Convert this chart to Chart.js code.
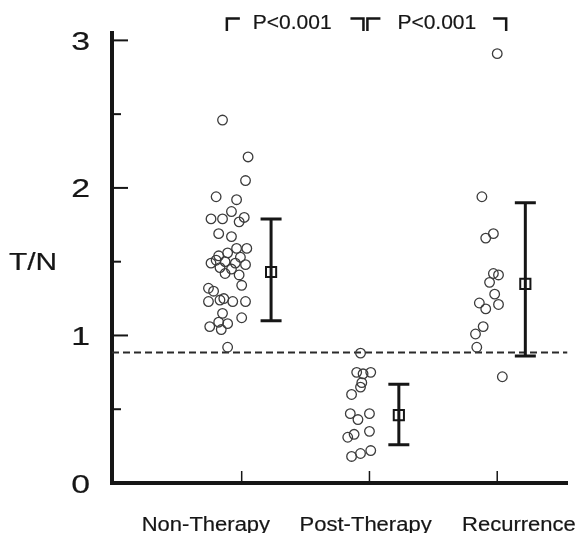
<!DOCTYPE html>
<html><head><meta charset="utf-8">
<script src="https://cdn.jsdelivr.net/npm/chart.js@4/dist/chart.umd.min.js"></script>
<style>html,body{margin:0;padding:0;background:#fff}#wrap{width:581px;height:533px;position:relative}</style>
</head><body><div id="wrap"><canvas id="c" width="581" height="533"></canvas></div>
<script>
// ---- data ----
const categories = ['Non-Therapy', 'Post-Therapy', 'Recurrence'];
const yTickLabels = [0, 1, 2, 3];
const yAxisTitle = 'T/N';
const pValueLabels = ['P<0.001', 'P<0.001'];

// jitter offsets (category units) and T/N values of each circle
const nonTherapyJitter = [-0.15,0.05,0.03,-0.20,-0.04,-0.08,-0.24,-0.15,-0.02,0.02,-0.18,-0.08,-0.04,0.04,-0.11,-0.18,-0.01,-0.24,-0.20,-0.13,-0.05,0.03,-0.17,-0.08,-0.13,-0.02,0.00,-0.26,-0.22,-0.26,-0.17,-0.14,-0.07,0.03,-0.15,-0.25,-0.18,-0.11,-0.16,0.00,-0.11];
const nonTherapyValues = [2.46,2.21,2.05,1.94,1.92,1.84,1.79,1.79,1.77,1.80,1.69,1.67,1.59,1.59,1.56,1.54,1.53,1.49,1.51,1.50,1.49,1.48,1.46,1.45,1.42,1.41,1.34,1.32,1.30,1.23,1.24,1.25,1.23,1.23,1.15,1.06,1.09,1.08,1.04,1.12,0.92];
const postTherapyJitter = [-0.07,-0.10,-0.05,0.01,-0.06,-0.07,-0.14,-0.15,-0.09,0.00,-0.17,-0.12,0.00,-0.14,-0.07,0.01];
const postTherapyValues = [0.88,0.75,0.74,0.75,0.68,0.65,0.60,0.47,0.43,0.47,0.31,0.33,0.35,0.18,0.20,0.22];
const recurrenceJitter = [0.00,-0.12,-0.03,-0.09,-0.03,0.01,-0.06,-0.02,-0.14,-0.09,0.01,-0.11,-0.17,-0.16,0.04];
const recurrenceValues = [2.91,1.94,1.69,1.66,1.42,1.41,1.36,1.28,1.22,1.18,1.21,1.06,1.01,0.92,0.72];

// mean ± SD per group
const groupMeans = [1.43, 0.46, 1.35];
const groupLows  = [1.10, 0.26, 0.86];
const groupHighs = [1.79, 0.67, 1.90];
const cutoff = 0.885;

// ---- styling / layout (not data) ----
const INK = '#161616';
const summaryOffset = [0.23, 0.23, 0.22];
const catLabelShift = [-0.28, -0.03, 0.17];
const pLabelPos = [1.395, 2.527];
const bracketX = [0.884, 1.953, 1.984, 3.07];
const X_MIN = -0.015, X_MAX = 3.55, Y_MIN = 0, Y_MAX = 3.05;

const groupsJ = [nonTherapyJitter, postTherapyJitter, recurrenceJitter];
const groupsV = [nonTherapyValues, postTherapyValues, recurrenceValues];

const datasets = [];
datasets.push({
  type: 'line', label: 'cutoff',
  data: [{x: X_MIN, y: cutoff}, {x: X_MAX, y: cutoff}],
  borderColor: '#2a2a2a', borderWidth: 2, borderDash: [7, 4], pointRadius: 0, order: 5
});
groupsV.forEach((vals, g) => {
  datasets.push({
    type: 'scatter', label: categories[g],
    data: vals.map((v, i) => ({x: g + 1 + groupsJ[g][i], y: v})),
    pointRadius: 4.8, pointBorderWidth: 1.3, pointBorderColor: '#3c3c3c',
    pointBackgroundColor: 'rgba(0,0,0,0)', order: 1
  });
  datasets.push({
    type: 'line', label: categories[g] + ' SD',
    data: [{x: g + 1 + summaryOffset[g], y: groupLows[g]}, {x: g + 1 + summaryOffset[g], y: groupHighs[g]}],
    borderColor: INK, borderWidth: 3, pointStyle: 'line', pointRadius: 10.5,
    pointBorderWidth: 3, pointBorderColor: INK, order: 2
  });
});
datasets.push({
  type: 'scatter', label: 'mean',
  data: groupMeans.map((m, g) => ({x: g + 1 + summaryOffset[g], y: m})),
  pointStyle: 'rect', pointRadius: 7.2, pointBorderWidth: 2, pointBorderColor: INK,
  pointBackgroundColor: 'rgba(0,0,0,0)', order: 0
});

function sText(ctx, txt, x, y, size, align, sx) {
  ctx.save();
  ctx.font = size + 'px "Liberation Sans", Arial, Helvetica, sans-serif';
  ctx.textBaseline = 'alphabetic';
  ctx.textAlign = align;
  ctx.fillStyle = INK;
  ctx.strokeStyle = INK;
  ctx.lineWidth = 0.2;
  ctx.translate(x, y);
  ctx.scale(sx, 1);
  ctx.fillText(txt, 0, 0);
  ctx.strokeText(txt, 0, 0);
  ctx.restore();
}

const decor = {
  id: 'decor',
  afterDraw(chart) {
    const ctx = chart.ctx, xs = chart.scales.x, ys = chart.scales.y, ca = chart.chartArea;
    ctx.save();
    ctx.strokeStyle = INK;
    // inward y ticks
    for (let v = 0.5; v <= 3; v += 0.5) {
      const py = ys.getPixelForValue(v);
      const major = Math.abs(v - Math.round(v)) < 1e-6;
      ctx.lineWidth = 2;
      ctx.beginPath(); ctx.moveTo(ca.left, py); ctx.lineTo(ca.left + (major ? 16 : 9), py); ctx.stroke();
    }
    // inward x ticks
    categories.forEach((c, i) => {
      const px = xs.getPixelForValue(i + 1);
      ctx.lineWidth = 1.5;
      ctx.beginPath(); ctx.moveTo(px, ca.bottom); ctx.lineTo(px, ca.bottom - 12); ctx.stroke();
    });
    // y tick labels
    yTickLabels.forEach(v => {
      sText(ctx, String(v), ca.left - 22, ys.getPixelForValue(v) + 9.5, 26, 'right', 1.3);
    });
    sText(ctx, yAxisTitle, 9, 270, 23, 'left', 1.3);
    // category labels
    categories.forEach((c, i) => {
      sText(ctx, c, xs.getPixelForValue(i + 1 + catLabelShift[i]), 531, 20, 'center', 1.1);
    });
    // brackets
    ctx.lineWidth = 2.5;
    ctx.lineCap = 'butt';
    const top = 18.5, bot = 31, arm = 13;
    const bx = bracketX.map(v => xs.getPixelForValue(v));
    const br = (x, dir) => {
      ctx.beginPath();
      ctx.moveTo(x, bot); ctx.lineTo(x, top); ctx.lineTo(x + dir * arm, top); ctx.stroke();
    };
    br(bx[0], 1); br(bx[1], -1); br(bx[2], 1); br(bx[3], -1);
    pValueLabels.forEach((t, i) => {
      sText(ctx, t, xs.getPixelForValue(pLabelPos[i]), 28.5, 21, 'center', 1.0);
    });
    ctx.restore();
  }
};

new Chart(document.getElementById('c'), {
  type: 'scatter',
  data: { datasets },
  options: {
    responsive: false, animation: false, devicePixelRatio: 1,
    layout: { padding: { left: 0, right: 9, top: 33, bottom: 0 } },
    plugins: { legend: { display: false }, tooltip: { enabled: false } },
    scales: {
      x: {
        type: 'linear', min: X_MIN, max: X_MAX,
        grid: { display: false }, ticks: { display: false },
        border: { display: true, width: 4, color: INK },
        afterFit: s => { s.height = 50; }
      },
      y: {
        type: 'linear', min: Y_MIN, max: Y_MAX,
        grid: { display: false }, ticks: { display: false, stepSize: 0.5 },
        border: { display: true, width: 4, color: INK },
        afterFit: s => { s.width = 112; }
      }
    }
  },
  plugins: [decor]
});
</script>
</body></html>
